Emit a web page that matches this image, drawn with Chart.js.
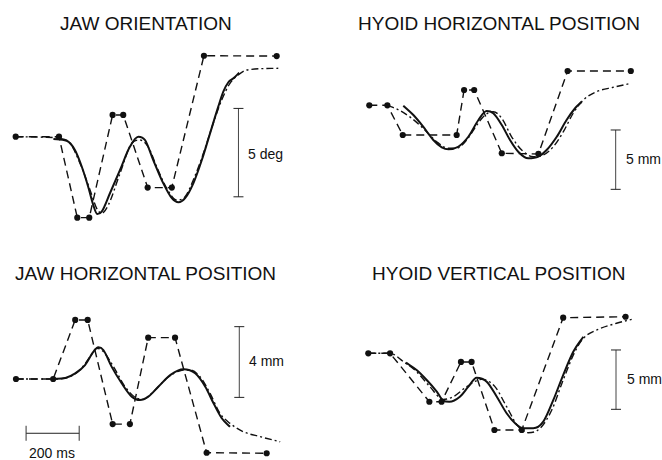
<!DOCTYPE html>
<html>
<head>
<meta charset="utf-8">
<script src="https://cdn.jsdelivr.net/npm/chart.js@4/dist/chart.umd.min.js"></script>
<style>
  html, body { margin: 0; padding: 0; background: #fff; }
  #wrap { position: relative; width: 662px; height: 460px; overflow: hidden; background: #fff; }
  canvas { position: absolute; }
  .title { position: absolute; font-family: "Liberation Sans", Arial, Helvetica, sans-serif; font-size: 19px; line-height: 19px; color: #111; white-space: nowrap; }
  .lab { position: absolute; font-family: "Liberation Sans", Arial, Helvetica, sans-serif; font-size: 14px; line-height: 14px; color: #111; white-space: nowrap; }
</style>
</head>
<body>
<div id="wrap">
  <div class="title" style="left:60px;top:14px">JAW ORIENTATION</div>
  <div class="title" style="left:358px;top:14px">HYOID HORIZONTAL POSITION</div>
  <div class="title" style="left:15px;top:264px">JAW HORIZONTAL POSITION</div>
  <div class="title" style="left:372px;top:264px">HYOID VERTICAL POSITION</div>
  <div class="lab" style="left:248px;top:147px">5 deg</div>
  <div class="lab" style="left:626px;top:152px">5 mm</div>
  <div class="lab" style="left:249px;top:354px">4 mm</div>
  <div class="lab" style="left:627px;top:372px">5 mm</div>
  <div class="lab" style="left:29px;top:446px">200 ms</div>
  <canvas id="c1" width="330" height="200" style="left:0px;top:40px"></canvas>
  <canvas id="c2" width="332" height="200" style="left:330px;top:40px"></canvas>
  <canvas id="c3" width="330" height="170" style="left:0px;top:290px"></canvas>
  <canvas id="c4" width="332" height="170" style="left:330px;top:290px"></canvas>
</div>
<script>
// ---------- DATA (time in ms, values in deg or mm) ----------
// Jaw orientation (deg)
const jawOriDashT  = [0, 163, 232, 277, 365, 405, 497, 588, 709, 983];
const jawOriDashV  = [0, 0, -4.58, -4.58, 1.23, 1.23, -2.88, -2.88, 4.58, 4.56];
const jawOriSolidT = [142, 192, 223, 249, 273, 292, 307, 324, 355, 393, 430, 462, 487, 518, 556, 588, 613, 638, 669, 701, 732, 763, 782, 801, 820, 842];
const jawOriSolidV = [-0.13, -0.23, -0.75, -1.70, -2.83, -3.86, -4.37, -4.24, -3.20, -1.88, -0.57, 0, -0.19, -1.32, -2.64, -3.48, -3.71, -3.48, -2.64, -1.32, 0.19, 1.70, 2.55, 3.08, 3.30, 3.62];
const jawOriDotT   = [0, 104, 161, 205, 242, 280, 305, 324, 349, 393, 437, 468, 499, 531, 569, 606, 638, 669, 707, 744, 776, 807, 838, 870, 989];
const jawOriDotV   = [0, -0.03, -0.09, -0.37, -1.50, -3.01, -4.05, -4.33, -3.86, -2.07, -0.37, -0.19, -0.57, -1.70, -2.92, -3.58, -3.39, -2.45, -0.94, 0.76, 2.08, 3.02, 3.49, 3.77, 3.87];

// Hyoid horizontal position (mm)
const hyoHorDashT  = [0, 68, 126, 329, 357, 395, 499, 637, 747, 985];
const hyoHorDashV  = [0, 0, -2.50, -2.50, 1.29, 1.29, -4.04, -4.10, 2.89, 2.89];
const hyoHorSolidT = [128, 166, 203, 241, 273, 298, 335, 373, 411, 442, 467, 499, 530, 561, 599, 637, 668, 706, 743, 775, 800];
const hyoHorSolidV = [-0.03, -0.82, -1.80, -2.92, -3.54, -3.71, -3.49, -2.65, -1.24, -0.48, -0.67, -1.66, -2.92, -3.91, -4.47, -4.33, -3.77, -2.65, -1.24, -0.25, 0.30];
const hyoHorDotT   = [68, 116, 160, 203, 254, 298, 329, 367, 405, 436, 467, 499, 536, 574, 618, 655, 693, 731, 768, 806, 856, 919, 985];
const hyoHorDotV   = [0, -0.45, -1.10, -1.94, -3.07, -3.62, -3.62, -2.92, -1.66, -0.82, -0.54, -1.10, -2.65, -3.77, -4.33, -4.19, -3.49, -2.22, -0.67, 0.45, 1.15, 1.52, 1.85];

// Jaw horizontal position (mm)
const jawHorDashT  = [0, 140, 223, 270, 364, 429, 498, 599, 718, 944];
const jawHorDashV  = [0, 0, 3.34, 3.34, -2.55, -2.55, 2.34, 2.34, -4.17, -4.20];
const jawHorSolidT = [140, 186, 223, 260, 292, 310, 329, 360, 398, 436, 467, 498, 536, 582, 630, 675, 713, 744, 775, 806];
const jawHorSolidV = [0, 0.06, 0.32, 0.79, 1.55, 1.79, 1.64, 0.70, -0.24, -1.00, -1.19, -1.00, -0.44, 0.23, 0.55, 0.32, -0.44, -1.37, -2.22, -2.70];
const jawHorDotT   = [0, 140, 191, 241, 279, 304, 329, 367, 411, 455, 480, 517, 568, 618, 656, 693, 731, 768, 806, 856, 919, 995];
const jawHorDotV   = [0, 0, 0.07, 0.51, 1.26, 1.74, 1.55, 0.70, -0.44, -1.09, -1.15, -0.72, 0.04, 0.47, 0.51, 0.13, -0.81, -1.94, -2.51, -2.98, -3.26, -3.55];

// Hyoid vertical position (mm)
const hyoVerDashT  = [0, 82, 230, 276, 349, 389, 475, 578, 734, 969];
const hyoVerDashV  = [0, 0, -4.08, -4.08, -0.73, -0.73, -6.46, -6.46, 3.00, 3.08];
const hyoVerSolidT = [142, 182, 220, 258, 282, 305, 345, 377, 408, 446, 484, 521, 553, 584, 621, 659, 697, 734, 772, 810];
const hyoVerSolidV = [-0.79, -1.41, -2.25, -3.23, -3.98, -4.08, -3.66, -2.81, -2.05, -2.39, -3.66, -5.05, -5.90, -6.32, -6.32, -5.76, -3.93, -1.83, 0.13, 1.40];
const hyoVerDotT   = [0, 82, 132, 182, 232, 282, 320, 371, 427, 477, 521, 565, 603, 647, 691, 734, 778, 810, 860, 935, 992];
const hyoVerDotV   = [0, 0, -0.70, -1.55, -2.81, -3.88, -3.66, -2.81, -2.19, -2.81, -4.50, -6.18, -6.69, -6.32, -4.78, -2.25, 0.13, 1.26, 1.96, 2.53, 2.86];

// Scale bars: [time, low value, high value]
const jawOriBar = [839, -3.4, 1.6];   // 5 deg
const hyoHorBar = [928, -7.08, -2.08]; // 5 mm
const jawHorBar = [841, -1.04, 2.96];  // 4 mm
const hyoVerBar = [933, -4.72, 0.28];  // 5 mm
const timeBar   = [38, 238, -3.07];    // 200 ms, at value -3.07 mm on jaw horizontal panel

// ---------- LAYOUT ----------
const PX_PER_MS = 0.2655;
const INK = '#111';

function pts(t, v) { return t.map((x, i) => ({ x: x, y: v[i] })); }

function makePanel(id, rect, x0, y0, pxPerUnit, series, bar, extra) {
  const xmin = (rect.left - x0) / PX_PER_MS;
  const xmax = (rect.left + rect.w - x0) / PX_PER_MS;
  const ymax = (y0 - rect.top) / pxPerUnit;
  const ymin = (y0 - (rect.top + rect.h)) / pxPerUnit;
  const datasets = [
    { data: pts(series.dotT, series.dotV), borderColor: INK, borderWidth: 1.4, borderDash: [7, 3, 2, 3],
      pointRadius: 0, tension: 0.35, cubicInterpolationMode: 'monotone', fill: false, clip: false },
    { data: pts(series.solidT, series.solidV), borderColor: INK, borderWidth: 2, pointRadius: 0,
      tension: 0.35, cubicInterpolationMode: 'monotone', fill: false, clip: false },
    { data: pts(series.dashT, series.dashV), borderColor: INK, borderWidth: 1.4, borderDash: [8, 5],
      pointRadius: 3.1, pointBackgroundColor: INK, pointBorderColor: INK, pointBorderWidth: 0,
      tension: 0, fill: false, clip: false },
    { data: [{ x: bar[0], y: bar[1] }, { x: bar[0], y: bar[2] }], borderColor: '#444', borderWidth: 1,
      pointStyle: 'line', pointRadius: 5, pointBorderColor: '#222', pointBorderWidth: 1, fill: false, clip: false }
  ];
  if (extra) datasets.push(extra);
  new Chart(document.getElementById(id), {
    type: 'line',
    data: { datasets: datasets },
    options: {
      responsive: false, animation: false, devicePixelRatio: 1,
      layout: { padding: 0, autoPadding: false },
      plugins: { legend: { display: false }, tooltip: { enabled: false }, title: { display: false } },
      events: [],
      scales: {
        x: { type: 'linear', display: false, min: xmin, max: xmax },
        y: { type: 'linear', display: false, min: ymin, max: ymax }
      }
    }
  });
}

makePanel('c1', { left: 0, top: 40, w: 330, h: 200 }, 15.7, 136.7, 17.68,
  { dashT: jawOriDashT, dashV: jawOriDashV, solidT: jawOriSolidT, solidV: jawOriSolidV, dotT: jawOriDotT, dotV: jawOriDotV },
  jawOriBar);

makePanel('c2', { left: 330, top: 40, w: 332, h: 200 }, 369.3, 105.3, 11.87,
  { dashT: hyoHorDashT, dashV: hyoHorDashV, solidT: hyoHorSolidT, solidV: hyoHorSolidV, dotT: hyoHorDotT, dotV: hyoHorDotV },
  hyoHorBar);

makePanel('c3', { left: 0, top: 290, w: 330, h: 170 }, 16, 379, 17.68,
  { dashT: jawHorDashT, dashV: jawHorDashV, solidT: jawHorSolidT, solidV: jawHorSolidV, dotT: jawHorDotT, dotV: jawHorDotV },
  jawHorBar,
  { data: [{ x: timeBar[0], y: timeBar[2] }, { x: timeBar[1], y: timeBar[2] }], borderColor: '#222', borderWidth: 1,
    pointStyle: 'line', pointRotation: 90, pointRadius: 7.5, pointBorderColor: '#333', pointBorderWidth: 1, fill: false, clip: false });

makePanel('c4', { left: 330, top: 290, w: 332, h: 170 }, 368.3, 353.3, 11.87,
  { dashT: hyoVerDashT, dashV: hyoVerDashV, solidT: hyoVerSolidT, solidV: hyoVerSolidV, dotT: hyoVerDotT, dotV: hyoVerDotV },
  hyoVerBar);
</script>
</body>
</html>
